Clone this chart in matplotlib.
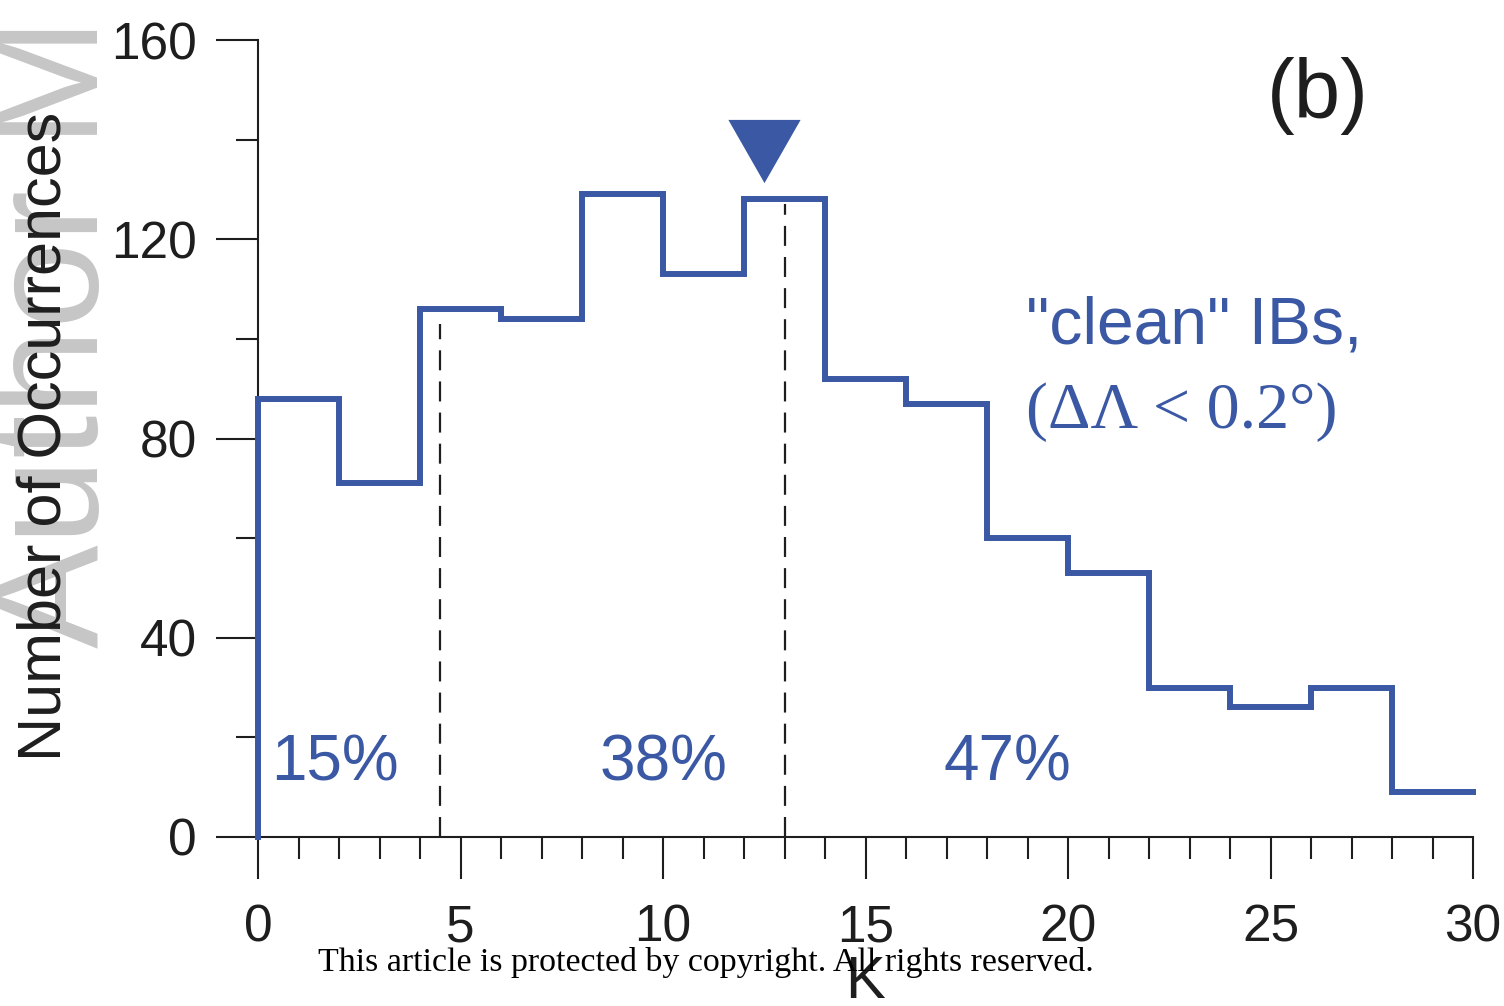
import numpy as np
import matplotlib.pyplot as plt
from matplotlib.path import Path
from matplotlib.ticker import MultipleLocator

# K histogram of "clean" IBs, bins of width 2
bin_edges = [0, 2, 4, 6, 8, 10, 12, 14, 16, 18, 20, 22, 24, 26, 28, 30]
counts = [88, 71, 106, 104, 129, 113, 128, 92, 87, 60, 53, 30, 26, 30, 9]

# tercile boundaries and the median marker
split_k = [4.5, 13.0]
split_top = [103, 127]
median_k = 12.5
median_marker_y = 137.7
shares = ["15%", "38%", "47%"]
share_k = [1.9, 10.0, 18.5]
share_y = 11.4

blue = "#3a58a4"
dark = "#1e1e1e"
plt.rcParams["font.family"] = ["Liberation Sans", "DejaVu Sans"]

fig = plt.figure(figsize=(15.04, 10.06), dpi=100)
ax = fig.add_axes([258 / 1504, 1 - 837 / 1006, 1215 / 1504, 797 / 1006])

# faint watermark down the left edge
fig.text(57 / 1504, 1 - 333 / 1006, "Author M", rotation=90, ha="center", va="center",
         fontsize=112, color="#c6c6c6", zorder=0)

xs = np.r_[bin_edges[0], bin_edges]
ys = np.r_[0, counts, counts[-1]]
ax.plot(xs, ys, drawstyle="steps-post", color=blue, lw=4.3, clip_on=False,
        solid_joinstyle="miter", zorder=3)

for k, top in zip(split_k, split_top):
    ax.plot([k, k], [0, top], color=dark, lw=1.6, ls=(0, (9, 5)), zorder=2)

# slightly flattened down-pointing triangle
tri = Path([(-1, 0.875), (1, 0.875), (0, -0.875), (-1, 0.875)],
           [Path.MOVETO, Path.LINETO, Path.LINETO, Path.CLOSEPOLY])
ax.plot([median_k], [median_marker_y], marker=tri, markersize=52, color=blue,
        markeredgewidth=0, clip_on=False, zorder=4)

for k, s in zip(share_k, shares):
    ax.text(k, share_y, s, ha="center", va="baseline", fontsize=46, color=blue)

ax.text(0.872, 0.93, "(b)", transform=ax.transAxes, ha="center", va="center",
        fontsize=60, color=dark)
ax.text(0.9086, 0.619, "\"clean\" IBs,", transform=ax.transAxes, ha="right",
        va="baseline", fontsize=47.5, color=blue)
ax.text(0.632, 0.513, "(\u0394\u039b < 0.2\u00b0)", transform=ax.transAxes, ha="left",
        va="baseline", fontsize=47.5, color=blue, family="Liberation Serif")

ax.set_xlim(0, 30)
ax.set_ylim(0, 160)
ax.xaxis.set_major_locator(MultipleLocator(5))
ax.xaxis.set_minor_locator(MultipleLocator(1))
ax.yaxis.set_major_locator(MultipleLocator(40))
ax.yaxis.set_minor_locator(MultipleLocator(20))
ax.tick_params(which="major", direction="out", length=30, width=1.5, colors=dark,
               labelsize=37, pad=14)
ax.tick_params(which="minor", direction="out", length=16, width=1.5, colors=dark)
ax.tick_params(axis="x", which="major", pad=18)
for side in ["top", "right"]:
    ax.spines[side].set_visible(False)
for side in ["left", "bottom"]:
    ax.spines[side].set_linewidth(1.5)
    ax.spines[side].set_color(dark)

fig.text(45 / 1504, 1 - 436 / 1006, "Number of Occurrences", rotation=90,
         ha="center", va="center", fontsize=44, color=dark)
fig.text(865 / 1504, 1 - 983 / 1006, "K", ha="center", va="center",
         fontsize=43, color=dark)

fig.text(706 / 1504, 1 - 962 / 1006,
         "This article is protected by copyright. All rights reserved.",
         ha="center", va="center", fontsize=24.4, color="black",
         family="Liberation Serif", zorder=5)

fig.savefig("out.png", dpi=100)
